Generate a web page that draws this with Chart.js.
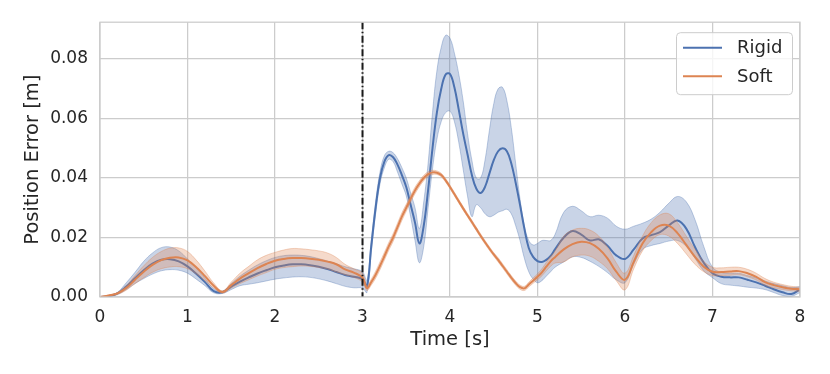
<!DOCTYPE html>
<html>
<head>
<meta charset="utf-8">
<script src="https://cdn.jsdelivr.net/npm/chart.js@4.4.1/dist/chart.umd.min.js"></script>
<style>
    body { margin: 0; background: #ffffff; }
    #wrap { width: 830px; height: 374px; }
</style>
</head>
<body>
<div id="wrap"><canvas id="errorChart" width="830" height="374"></canvas></div>
<script>
// ================= Data =================
const times = [
    0, 0.1, 0.2, 0.3, 0.4, 0.5, 0.6, 0.7, 0.8, 0.9,
    1.0, 1.1, 1.2, 1.3, 1.4, 1.5, 1.6, 1.7, 1.8, 1.9,
    2.0, 2.1, 2.2, 2.3, 2.4, 2.5, 2.6, 2.7, 2.8, 2.9, 3.0,
    3.05, 3.1, 3.15, 3.2, 3.25, 3.3, 3.35, 3.4, 3.45, 3.5,
    3.55, 3.6, 3.65, 3.7, 3.75, 3.8, 3.85, 3.9, 3.95, 4.0,
    4.05, 4.1, 4.15, 4.2, 4.25, 4.3, 4.35, 4.4, 4.45, 4.5,
    4.55, 4.6, 4.65, 4.7, 4.75, 4.8, 4.85, 4.9, 4.95, 5.0,
    5.05, 5.1, 5.15, 5.2,
    5.3, 5.4, 5.5, 5.6, 5.7, 5.8, 5.9, 6.0, 6.1, 6.2,
    6.3, 6.4, 6.5, 6.6, 6.7, 6.8, 6.9, 7.0, 7.1, 7.2,
    7.3, 7.4, 7.5, 7.6, 7.7, 7.8, 7.9, 8.0
];

const rigidMean = [
    0, 0.0003, 0.0012, 0.0035, 0.0063, 0.0090, 0.0112, 0.0125, 0.0127, 0.0120,
    0.0103, 0.0078, 0.0050, 0.0020, 0.0016, 0.0035, 0.0052, 0.0066, 0.0079, 0.0090,
    0.0100, 0.0106, 0.0110, 0.0110, 0.0107, 0.0102, 0.0094, 0.0084, 0.0074, 0.0068, 0.0060,
    0.0035, 0.0170, 0.0300, 0.0400, 0.0455, 0.0477, 0.0470, 0.0445, 0.0410, 0.0370,
    0.0310, 0.0250, 0.0180, 0.0240, 0.0360, 0.0500, 0.0620, 0.0700, 0.0748, 0.0750,
    0.0705, 0.0630, 0.0550, 0.0480, 0.0410, 0.0365, 0.0350, 0.0370, 0.0415, 0.0460,
    0.0490, 0.0500, 0.0490, 0.0450, 0.0385, 0.0310, 0.0230, 0.0165, 0.0135, 0.0121,
    0.0118, 0.0125, 0.0138, 0.0160,
    0.0200, 0.0222, 0.0210, 0.0190, 0.0194, 0.0172, 0.0140, 0.0128, 0.0160, 0.0197,
    0.0208, 0.0218, 0.0240, 0.0257, 0.0230, 0.0168, 0.0115, 0.0080, 0.0068, 0.0066,
    0.0066, 0.0058, 0.0049, 0.0038, 0.0026, 0.0016, 0.0010, 0.0026
];
const rigidLow = [
    0, 0.0001, 0.0008, 0.0025, 0.0045, 0.0062, 0.0077, 0.0088, 0.0092, 0.0090,
    0.0080, 0.0060, 0.0038, 0.0014, 0.0012, 0.0025, 0.0038, 0.0043, 0.0048, 0.0054,
    0.0060, 0.0064, 0.0067, 0.0068, 0.0066, 0.0061, 0.0054, 0.0045, 0.0036, 0.0031, 0.0030,
    0.0015, 0.0150, 0.0280, 0.0380, 0.0435, 0.0463, 0.0455, 0.0420, 0.0380, 0.0340,
    0.0270, 0.0190, 0.0115, 0.0170, 0.0300, 0.0430, 0.0530, 0.0590, 0.0620, 0.0625,
    0.0590, 0.0520, 0.0430, 0.0340, 0.0270, 0.0310, 0.0300, 0.0280, 0.0270, 0.0275,
    0.0285, 0.0290, 0.0295, 0.0280, 0.0240, 0.0190, 0.0130, 0.0085, 0.0060, 0.0048,
    0.0055, 0.0070, 0.0085, 0.0100,
    0.0118, 0.0135, 0.0133, 0.0120, 0.0103, 0.0082, 0.0058, 0.0048, 0.0110, 0.0160,
    0.0173, 0.0180, 0.0188, 0.0190, 0.0170, 0.0130, 0.0088, 0.0065, 0.0045, 0.0040,
    0.0037, 0.0033, 0.0030, 0.0025, 0.0015, 0.0005, 0.0002, 0.0015
];
const rigidHigh = [
    0, 0.0005, 0.0016, 0.0048, 0.0083, 0.0120, 0.0148, 0.0166, 0.0168, 0.0155,
    0.0128, 0.0097, 0.0063, 0.0028, 0.0020, 0.0045, 0.0070, 0.0090, 0.0108, 0.0122,
    0.0133, 0.0139, 0.0141, 0.0140, 0.0136, 0.0129, 0.0121, 0.0112, 0.0102, 0.0095, 0.0085,
    0.0055, 0.0190, 0.0320, 0.0420, 0.0475, 0.0490, 0.0485, 0.0465, 0.0435, 0.0400,
    0.0350, 0.0300, 0.0230, 0.0320, 0.0450, 0.0620, 0.0760, 0.0840, 0.0880, 0.0870,
    0.0820, 0.0750, 0.0660, 0.0550, 0.0460, 0.0400, 0.0400, 0.0460, 0.0560, 0.0650,
    0.0700, 0.0705, 0.0660, 0.0570, 0.0450, 0.0330, 0.0240, 0.0190, 0.0175, 0.0180,
    0.0190, 0.0190, 0.0190, 0.0210,
    0.0285, 0.0305, 0.0290, 0.0270, 0.0275, 0.0265, 0.0238, 0.0228, 0.0238, 0.0248,
    0.0262, 0.0285, 0.0315, 0.0338, 0.0320, 0.0260, 0.0170, 0.0100, 0.0083, 0.0080,
    0.0080, 0.0072, 0.0064, 0.0054, 0.0045, 0.0038, 0.0032, 0.0035
];

const softMean = [
    0, 0.0005, 0.0012, 0.0030, 0.0058, 0.0085, 0.0108, 0.0124, 0.0132, 0.0133,
    0.0123, 0.0100, 0.0070, 0.0038, 0.0017, 0.0040, 0.0062, 0.0080, 0.0097, 0.0111,
    0.0122, 0.0128, 0.0131, 0.0131, 0.0129, 0.0125, 0.0119, 0.0110, 0.0093, 0.0082, 0.0065,
    0.0030, 0.0050, 0.0075, 0.0105, 0.0137, 0.0170, 0.0200, 0.0235, 0.0270, 0.0300,
    0.0330, 0.0358, 0.0381, 0.0400, 0.0413, 0.0419, 0.0418, 0.0410, 0.0392, 0.0370,
    0.0346, 0.0322, 0.0298, 0.0275, 0.0252, 0.0229, 0.0206, 0.0184, 0.0163, 0.0143,
    0.0125, 0.0105, 0.0085, 0.0065, 0.0047, 0.0033, 0.0029, 0.0042, 0.0055, 0.0068,
    0.0083, 0.0102, 0.0120, 0.0134,
    0.0160, 0.0178, 0.0186, 0.0181, 0.0162, 0.0130, 0.0085, 0.0058, 0.0118, 0.0180,
    0.0218, 0.0240, 0.0240, 0.0215, 0.0175, 0.0135, 0.0102, 0.0085, 0.0084, 0.0086,
    0.0087, 0.0080, 0.0068, 0.0050, 0.0040, 0.0033, 0.0028, 0.0026
];
const softLow = [
    0, 0.0003, 0.0009, 0.0023, 0.0045, 0.0065, 0.0083, 0.0095, 0.0101, 0.0102,
    0.0095, 0.0078, 0.0055, 0.0030, 0.0013, 0.0030, 0.0045, 0.0058, 0.0071, 0.0082,
    0.0093, 0.0099, 0.0102, 0.0104, 0.0103, 0.0099, 0.0094, 0.0084, 0.0075, 0.0066, 0.0050,
    0.0022, 0.0040, 0.0063, 0.0092, 0.0124, 0.0157, 0.0187, 0.0222, 0.0257, 0.0288,
    0.0319, 0.0347, 0.0371, 0.0391, 0.0405, 0.0412, 0.0412, 0.0404, 0.0386, 0.0364,
    0.0340, 0.0316, 0.0292, 0.0269, 0.0246, 0.0223, 0.0200, 0.0178, 0.0157, 0.0137,
    0.0118, 0.0098, 0.0078, 0.0058, 0.0040, 0.0026, 0.0022, 0.0034, 0.0046, 0.0058,
    0.0071, 0.0088, 0.0103, 0.0114,
    0.0118, 0.0135, 0.0141, 0.0137, 0.0120, 0.0095, 0.0055, 0.0024, 0.0095, 0.0155,
    0.0190, 0.0210, 0.0205, 0.0180, 0.0145, 0.0110, 0.0085, 0.0072, 0.0072, 0.0073,
    0.0075, 0.0068, 0.0057, 0.0040, 0.0031, 0.0025, 0.0021, 0.0019
];
const softHigh = [
    0, 0.0007, 0.0015, 0.0038, 0.0072, 0.0105, 0.0133, 0.0153, 0.0164, 0.0165,
    0.0153, 0.0124, 0.0087, 0.0047, 0.0021, 0.0050, 0.0080, 0.0103, 0.0125, 0.0140,
    0.0150, 0.0158, 0.0163, 0.0162, 0.0159, 0.0155, 0.0148, 0.0133, 0.0110, 0.0095, 0.0080,
    0.0038, 0.0060, 0.0087, 0.0118, 0.0150, 0.0183, 0.0213, 0.0248, 0.0283, 0.0312,
    0.0341, 0.0369, 0.0391, 0.0409, 0.0421, 0.0426, 0.0424, 0.0416, 0.0398, 0.0376,
    0.0352, 0.0328, 0.0304, 0.0281, 0.0258, 0.0235, 0.0212, 0.0190, 0.0169, 0.0149,
    0.0132, 0.0112, 0.0092, 0.0072, 0.0054, 0.0040, 0.0036, 0.0050, 0.0064, 0.0078,
    0.0095, 0.0116, 0.0137, 0.0154,
    0.0205, 0.0225, 0.0231, 0.0225, 0.0205, 0.0168, 0.0115, 0.0080, 0.0140, 0.0205,
    0.0250, 0.0276, 0.0280, 0.0250, 0.0205, 0.0160, 0.0120, 0.0100, 0.0098, 0.0100,
    0.0100, 0.0093, 0.0080, 0.0062, 0.0050, 0.0042, 0.0036, 0.0033
];

const xTicks = [0, 1, 2, 3, 4, 5, 6, 7, 8];
const yTicks = [0.00, 0.02, 0.04, 0.06, 0.08];
const seriesNames = ["Rigid", "Soft"];
const switchTime = 3;   // contact / switch instant (dash-dot line)

// ================= Style =================
const BLUE = "#4C72B0";
const ORANGE = "#DD8452";
const TEXT = "#262626";
const GRID = "#cccccc";
const FONT = "'DejaVu Sans', sans-serif";

const toPoints = arr => times.map((t, i) => ({ x: t, y: arr[i] }));

function band(arr, rgb, fill, order) {
    return {
        data: toPoints(arr),
        borderColor: `rgba(${rgb},0.35)`,
        borderWidth: 1,
        backgroundColor: `rgba(${rgb},0.3)`,
        pointRadius: 0,
        tension: 0.4,
        fill: fill,
        order: order
    };
}

function meanLine(arr, color, order) {
    return {
        data: toPoints(arr),
        borderColor: color,
        borderWidth: 2,
        pointRadius: 0,
        tension: 0.4,
        fill: false,
        order: order
    };
}

// ================= Plugins =================
const framePlugin = {
    id: "frame",
    afterDatasetsDraw(chart) {
        const { ctx, chartArea: a, scales } = chart;
        // dash-dot vertical line
        const px = scales.x.getPixelForValue(switchTime);
        ctx.save();
        ctx.strokeStyle = "#1a1a1a";
        ctx.lineWidth = 2;
        ctx.setLineDash([7, 2.5, 1.5, 2.5]);
        ctx.beginPath();
        ctx.moveTo(px, a.top);
        ctx.lineTo(px, a.bottom);
        ctx.stroke();
        ctx.setLineDash([]);
        // axes frame
        ctx.strokeStyle = GRID;
        ctx.lineWidth = 1.25;
        ctx.strokeRect(a.left, a.top, a.right - a.left, a.bottom - a.top);
        ctx.restore();
    }
};

const legendPlugin = {
    id: "boxLegend",
    afterDraw(chart) {
        const { ctx, chartArea: a } = chart;
        const w = 116, h = 62;
        const left = a.right - 8 - w, top = a.top + 10;
        ctx.save();
        ctx.fillStyle = "rgba(255,255,255,0.8)";
        ctx.strokeStyle = GRID;
        ctx.lineWidth = 1;
        ctx.beginPath();
        ctx.roundRect(left + 0.5, top + 0.5, w, h, 4);
        ctx.fill();
        ctx.stroke();
        const colors = [BLUE, ORANGE];
        ctx.font = "18px " + FONT;
        ctx.textBaseline = "middle";
        seriesNames.forEach((name, i) => {
            const y = top + 15.5 + i * 28.5;
            ctx.strokeStyle = colors[i];
            ctx.lineWidth = 2;
            ctx.beginPath();
            ctx.moveTo(left + 7, y);
            ctx.lineTo(left + 46, y);
            ctx.stroke();
            ctx.fillStyle = TEXT;
            ctx.fillText(name, left + 61, y + 1);
        });
        ctx.restore();
    }
};

// ================= Chart =================
const errorChart = new Chart(document.getElementById("errorChart"), {
    type: "line",
    data: {
        datasets: [
            band(softLow, "221,132,82", false, 1),
            band(softHigh, "221,132,82", "-1", 1),
            meanLine(softMean, ORANGE, 0),
            band(rigidLow, "76,114,176", false, 3),
            band(rigidHigh, "76,114,176", "-1", 3),
            meanLine(rigidMean, BLUE, 2)
        ]
    },
    options: {
        responsive: false,
        animation: false,
        layout: {
            padding: { left: 0, right: 30, top: 22, bottom: 22 }
        },
        plugins: {
            legend: { display: false },
            tooltip: { enabled: false }
        },
        scales: {
            x: {
                type: "linear",
                min: xTicks[0],
                max: xTicks[xTicks.length - 1],
                afterBuildTicks: scale => {
                    scale.ticks = xTicks.map(v => ({ value: v }));
                },
                afterFit: scale => { scale.height = 55; },
                ticks: {
                    color: TEXT,
                    padding: 10,
                    maxRotation: 0,
                    font: { family: FONT, size: 17 },
                    callback: v => String(v)
                },
                grid: { color: GRID, lineWidth: 1.25, drawTicks: false },
                border: { display: false },
                title: {
                    display: true,
                    text: "Time [s]",
                    color: TEXT,
                    padding: 0,
                    font: { family: FONT, size: 19.5 }
                }
            },
            y: {
                min: 0,
                max: 0.0924,
                afterBuildTicks: scale => {
                    scale.ticks = yTicks.map(v => ({ value: v }));
                },
                afterFit: scale => { scale.width = 100; },
                ticks: {
                    color: TEXT,
                    padding: 12,
                    font: { family: FONT, size: 17 },
                    callback: v => v.toFixed(2)
                },
                grid: { color: GRID, lineWidth: 1.25, drawTicks: false },
                border: { display: false },
                title: {
                    display: true,
                    text: "Position Error [m]",
                    color: TEXT,
                    padding: { top: 21, bottom: 0 },
                    font: { family: FONT, size: 19.5 }
                }
            }
        }
    },
    plugins: [framePlugin, legendPlugin]
});
</script>
</body>
</html>
